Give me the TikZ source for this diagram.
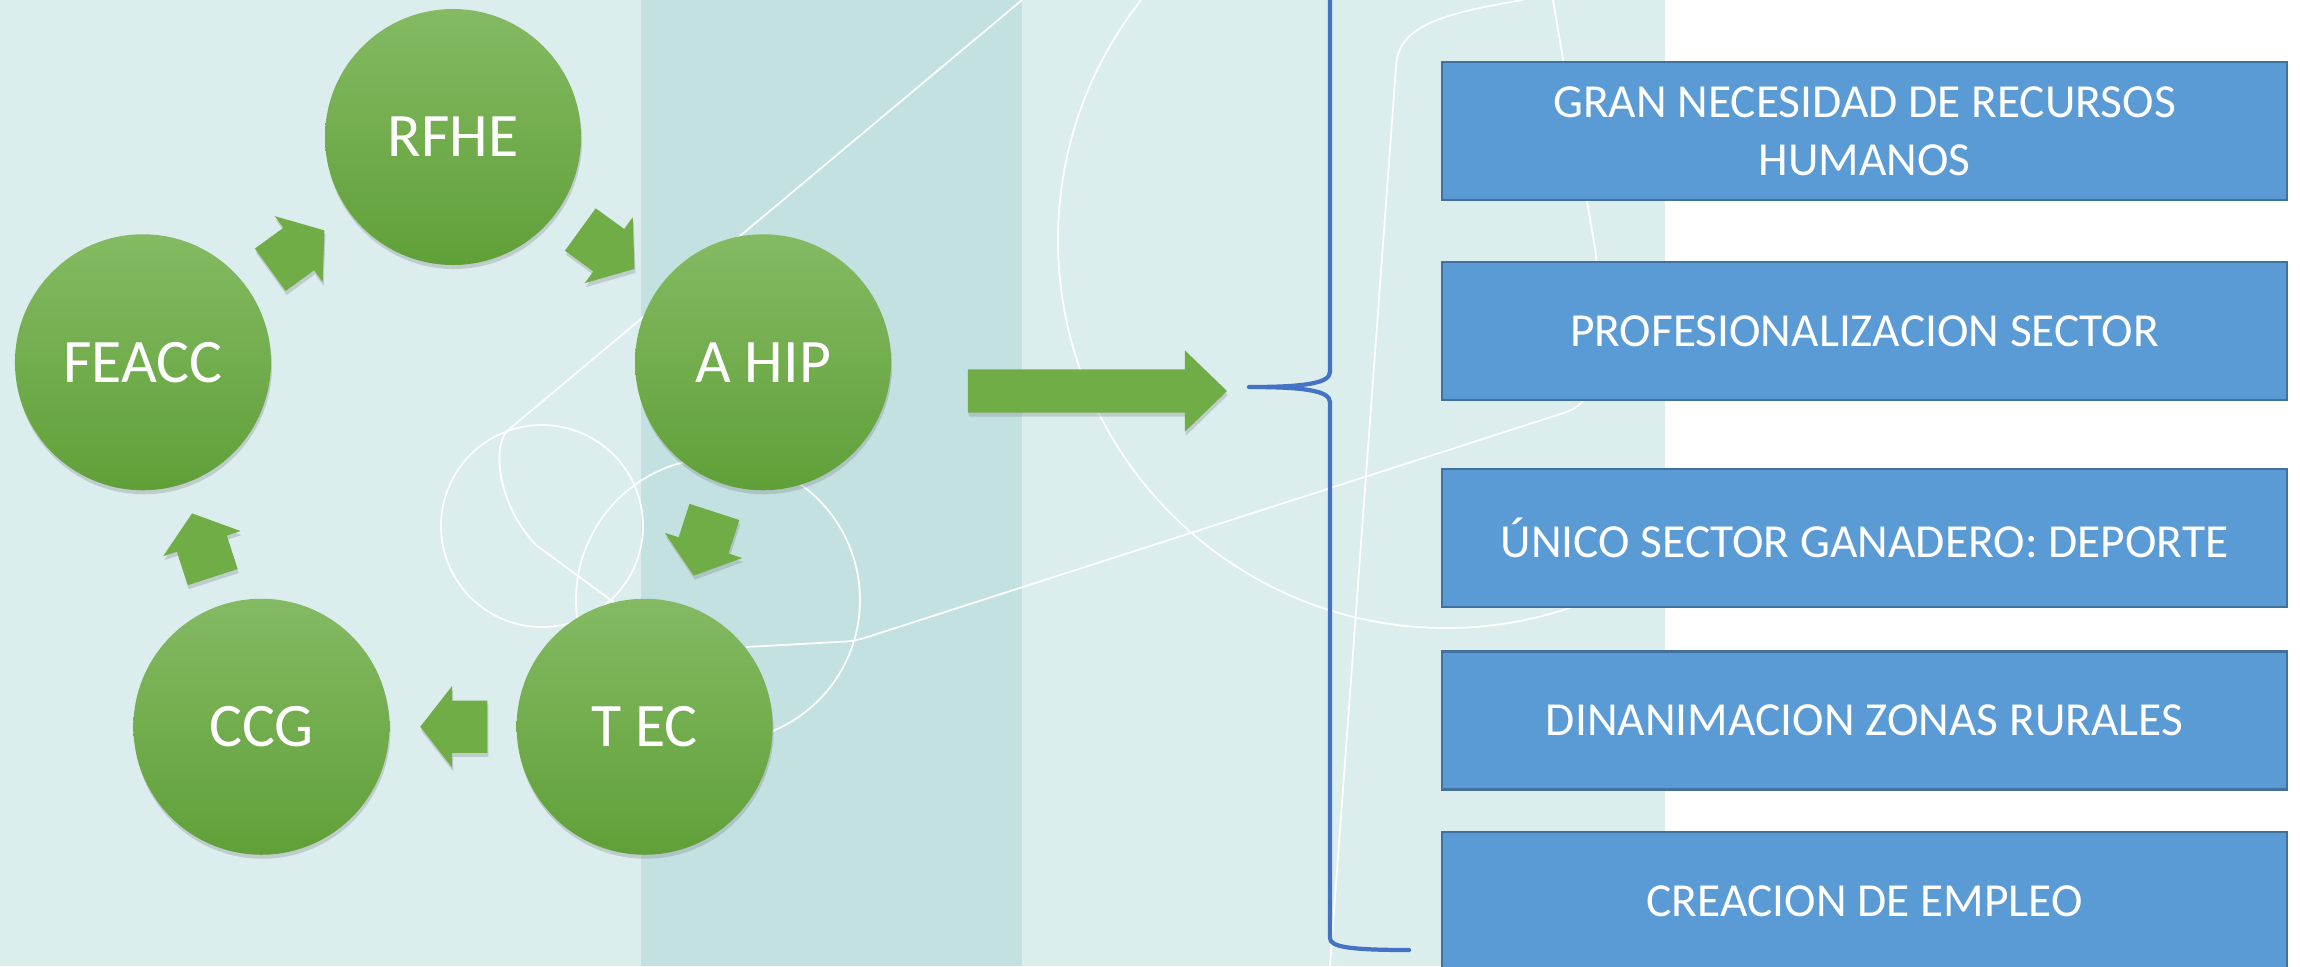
\documentclass[tikz,border=0pt]{standalone}
\usepackage{fontspec}
\setmainfont{Carlito}
\usetikzlibrary{calc,shapes.arrows,shadows}

\definecolor{fondo}{HTML}{DBEDED}
\definecolor{banda}{HTML}{C3E1E1}
\definecolor{verde}{HTML}{70AD47}
\definecolor{verdeclaro}{HTML}{84BA63}
\definecolor{verdeoscuro}{HTML}{60A038}
\definecolor{azulcaja}{HTML}{5B9BD5}
\definecolor{bordecaja}{HTML}{41719C}
\definecolor{azulllave}{HTML}{4472C4}

\tikzset{
    sombra/.style={drop shadow={shadow xshift=0.01cm, shadow yshift=-0.04cm, opacity=0.3}},
    circulo/.style={circle, minimum size=2.56cm, inner sep=0pt, top color=verdeclaro, bottom color=verdeoscuro, text=white, font=\fontsize{17.6}{21}\selectfont, sombra},
    flecha/.style={single arrow, minimum height=0.67cm, inner xsep=0pt, inner ysep=0.255cm, single arrow head extend=0.145cm, single arrow tip angle=104, fill=verde, sombra},
    flechagrande/.style={single arrow, minimum height=2.59cm, inner xsep=0pt, inner ysep=0.21cm, single arrow head extend=0.19cm, single arrow tip angle=88, fill=verde, sombra},
    caja/.style={rectangle, draw=bordecaja, line width=0.7pt, fill=azulcaja, minimum width=8.45cm, minimum height=1.38cm, text=white, align=center, font=\fontsize{13.5}{16.5}\selectfont},
    linea/.style={white, line width=0.5pt},
    llave/.style={azulllave, line width=1.2pt, line cap=round, line join=round}
}

\begin{document}
\begin{tikzpicture}
    \useasboundingbox (0,0) rectangle (23,-9.66);
    \clip (0,0) rectangle (23,-9.66);

    \fill[white] (0,0) rectangle (23,-9.66);
    \fill[fondo] (0,0) rectangle (16.65,-9.66);
    \fill[banda] (6.41,0) rectangle (10.22,-9.66);

    \draw[linea] (10.22,0) -- (5.07,-4.31) .. controls (4.92,-4.48) and (4.98,-5.05) .. (5.36,-5.45) -- (6.80,-6.51);
    \draw[linea] (5.42,-5.26) circle (1.01);
    \draw[linea] (7.18,-6.00) circle (1.42);
    \draw[linea, rounded corners=0.1cm] (7.46,-6.47) -- (8.55,-6.41) -- (15.76,-4.09) -- (15.88,-3.95) -- (15.97,-2.60) -- (15.53,0);
    \draw[linea] (14.46,-2.40) circle (3.88);
    \draw[linea] (15.23,0) .. controls (14.30,-0.15) and (13.98,-0.30) .. (13.96,-0.67) -- (13.30,-9.66);

    \coordinate (centro) at (4.53,-4.63);
    \foreach \nombre/\texto/\ang in {rfhe/RFHE/90, ahip/A HIP/18, tec/T EC/-54, ccg/CCG/-126, feacc/FEACC/162}
        \node[circulo] (\nombre) at ($(centro)+(\ang:3.26)$) {\texto};

    \foreach \desde/\hasta/\ang in {rfhe/ahip/-36, ahip/tec/-108, tec/ccg/180, ccg/feacc/108, feacc/rfhe/36}
        \node[flecha, rotate=\ang, xshift=-0.11cm] (f-\desde) at ($(\desde)!0.5!(\hasta)$) {};

    \node[flechagrande, anchor=tip] (fgrande) at (12.28,-3.91) {};

    \coordinate (punta) at (12.49,-3.87);
    \draw[llave] (14.09,1.76) .. controls (13.50,1.76) and (13.30,1.70) .. (13.30,1.64)
        -- (13.30,-3.72) .. controls (13.30,-3.84) and (13.00,-3.87) .. (punta)
        .. controls (13.00,-3.87) and (13.30,-3.90) .. (13.30,-4.02)
        -- (13.30,-9.38) .. controls (13.30,-9.47) and (13.50,-9.50) .. (14.09,-9.50);

    \node[caja] (c1) at (18.645,-1.31) {GRAN NECESIDAD DE RECURSOS\\HUMANOS};
    \node[caja] (c2) at (18.645,-3.31) {PROFESIONALIZACION SECTOR};
    \node[caja] (c3) at (18.645,-5.38) {ÚNICO SECTOR GANADERO: DEPORTE};
    \node[caja] (c4) at (18.645,-7.205) {DINANIMACION ZONAS RURALES};
    \node[caja] (c5) at (18.645,-9.01) {CREACION DE EMPLEO};
\end{tikzpicture}
\end{document}
